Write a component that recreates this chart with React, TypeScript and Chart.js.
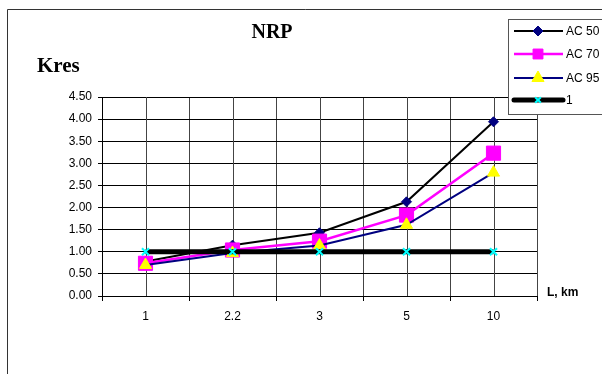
import React, { useEffect, useRef } from 'react';
import { Chart, registerables } from 'chart.js';

Chart.register(...registerables);

const categories = ['1', '2.2', '3', '5', '10'];
const ac50 = [0.78, 1.15, 1.43, 2.13, 3.94];
const ac70 = [0.74, 1.04, 1.24, 1.83, 3.23];
const ac95 = [0.7, 0.97, 1.14, 1.61, 2.79];
const unity = [1, 1, 1, 1, 1];
const seriesNames = ['AC 50', 'AC 70', 'AC 95', '1'];
const titleText = 'NRP';
const yTitle = 'Kres';
const xTitle = 'L, km';
const yMin = 0;
const yMax = 4.5;
const yStep = 0.5;

const SANS = '"Liberation Sans", Arial, sans-serif';
const SERIF = '"Liberation Serif", "Times New Roman", serif';

type Marker = { kind: string; fill: string; stroke: string; r: number; bw: number };

function drawMarker(ctx: CanvasRenderingContext2D, x: number, y: number, m: Marker) {
  ctx.save();
  ctx.fillStyle = m.fill;
  ctx.strokeStyle = m.stroke;
  ctx.lineWidth = m.bw;
  ctx.beginPath();
  if (m.kind === 'rectRot') {
    ctx.moveTo(x - m.r, y);
    ctx.lineTo(x, y - m.r);
    ctx.lineTo(x + m.r, y);
    ctx.lineTo(x, y + m.r);
    ctx.closePath();
    ctx.fill();
    ctx.stroke();
  } else if (m.kind === 'rect') {
    const s = Math.SQRT1_2 * m.r;
    ctx.rect(x - s, y - s, 2 * s, 2 * s);
    ctx.fill();
    ctx.stroke();
  } else if (m.kind === 'triangle') {
    const a = (2 * Math.PI) / 3;
    ctx.moveTo(x, y - m.r);
    ctx.lineTo(x + Math.sin(a) * m.r, y - Math.cos(a) * m.r);
    ctx.lineTo(x + Math.sin(2 * a) * m.r, y - Math.cos(2 * a) * m.r);
    ctx.closePath();
    ctx.fill();
    ctx.stroke();
  } else if (m.kind === 'crossRot') {
    const d = Math.cos(Math.PI / 4) * m.r;
    ctx.moveTo(x - d, y - d);
    ctx.lineTo(x + d, y + d);
    ctx.moveTo(x - d, y + d);
    ctx.lineTo(x + d, y - d);
    ctx.stroke();
  }
  ctx.restore();
}

const legendMarkers: Marker[] = [
  { kind: 'rectRot', fill: '#000080', stroke: '#000080', r: 5, bw: 1 },
  { kind: 'rect', fill: '#ff00ff', stroke: '#ff00ff', r: 7, bw: 1 },
  { kind: 'triangle', fill: '#ffff00', stroke: '#ffff00', r: 7, bw: 1 },
  { kind: 'crossRot', fill: '#00ffff', stroke: '#00ffff', r: 4, bw: 2 },
];

const decorPlugin = {
  id: 'decor',
  beforeDatasetsDraw(chart: any) {
    const { ctx, chartArea } = chart;
    const xs = chart.scales.x;
    ctx.save();
    ctx.strokeStyle = '#444444';
    ctx.lineWidth = 1;
    for (let i = 0; i < categories.length; i++) {
      const px = Math.round(xs.getPixelForValue(i)) + 0.5;
      ctx.beginPath();
      ctx.moveTo(px, chartArea.top);
      ctx.lineTo(px, chartArea.bottom);
      ctx.stroke();
    }
    ctx.restore();
  },
  afterDraw(chart: any) {
    const { ctx } = chart;
    const datasets = chart.data.datasets;
    ctx.save();
    // outer border
    ctx.strokeStyle = '#333333';
    ctx.lineWidth = 1;
    ctx.beginPath();
    ctx.moveTo(7.5, 380);
    ctx.lineTo(7.5, 9.5);
    ctx.lineTo(610, 9.5);
    ctx.stroke();

    // titles
    ctx.fillStyle = '#000';
    ctx.textBaseline = 'alphabetic';
    ctx.font = `bold 20px ${SERIF}`;
    ctx.textAlign = 'center';
    ctx.fillText(titleText, 272, 38);
    ctx.textAlign = 'left';
    ctx.font = `bold 21px ${SERIF}`;
    ctx.fillText(yTitle, 37, 72);
    ctx.font = `bold 12px ${SANS}`;
    ctx.fillText(xTitle, 547, 296);

    // legend
    ctx.fillStyle = '#ffffff';
    ctx.fillRect(508, 19, 100, 95);
    ctx.strokeStyle = '#555555';
    ctx.lineWidth = 1;
    ctx.strokeRect(508.5, 19.5, 100, 95);
    const rowsY = [31, 54, 78, 100];
    for (let i = 0; i < datasets.length; i++) {
      const ds = datasets[i];
      const y = rowsY[i];
      ctx.save();
      ctx.strokeStyle = ds.borderColor;
      ctx.lineWidth = ds.borderWidth;
      ctx.lineCap = ds.borderWidth > 3 ? 'round' : 'butt';
      ctx.beginPath();
      ctx.moveTo(514, y);
      ctx.lineTo(563, y);
      ctx.stroke();
      ctx.restore();
      drawMarker(ctx, 538, y, legendMarkers[i]);
      ctx.fillStyle = '#000';
      ctx.font = `12px ${SANS}`;
      ctx.textAlign = 'left';
      ctx.textBaseline = 'middle';
      ctx.fillText(ds.label, 566, y + 1);
    }
    ctx.restore();
  },
};

export default function App() {
  const canvasRef = useRef<HTMLCanvasElement | null>(null);

  useEffect(() => {
    const canvas = canvasRef.current;
    if (!canvas) return;
    const chart = new Chart(canvas, {
      type: 'line',
      data: {
        labels: categories,
        datasets: [
          {
            label: seriesNames[0],
            data: ac50,
            borderColor: '#000000',
            borderWidth: 2,
            pointStyle: 'rectRot',
            pointRadius: 5,
            pointBackgroundColor: '#000080',
            pointBorderColor: '#000080',
            pointBorderWidth: 1,
            order: 3,
            tension: 0,
          },
          {
            label: seriesNames[1],
            data: ac70,
            borderColor: '#ff00ff',
            borderWidth: 2.5,
            pointStyle: 'rect',
            pointRadius: 10,
            pointBackgroundColor: '#ff00ff',
            pointBorderColor: '#ff00ff',
            pointBorderWidth: 1,
            order: 2,
            tension: 0,
          },
          {
            label: seriesNames[2],
            data: ac95,
            borderColor: '#000080',
            borderWidth: 2,
            pointStyle: 'triangle',
            pointRadius: 7,
            pointBackgroundColor: '#ffff00',
            pointBorderColor: '#ffff00',
            pointBorderWidth: 1,
            order: 1,
            tension: 0,
          },
          {
            label: seriesNames[3],
            data: unity,
            borderColor: '#000000',
            borderWidth: 5,
            pointStyle: 'crossRot',
            pointRadius: 5,
            pointBackgroundColor: '#00ffff',
            pointBorderColor: '#00ffff',
            pointBorderWidth: 2,
            order: 0,
            tension: 0,
          },
        ],
      },
      options: {
        animation: false,
        responsive: false,
        maintainAspectRatio: false,
        layout: { padding: { top: 97, right: 65, left: 0, bottom: 0 } },
        plugins: {
          legend: { display: false },
          title: { display: false },
          tooltip: { enabled: false },
        },
        scales: {
          x: {
            type: 'category',
            offset: true,
            grid: {
              offset: true,
              color: '#444444',
              lineWidth: 1,
              drawTicks: true,
              tickLength: 5,
              tickColor: '#000000',
            },
            border: { display: true, color: '#000000', width: 1 },
            ticks: {
              color: '#000',
              font: { family: SANS, size: 12 },
              padding: 8,
              maxRotation: 0,
            },
            afterFit: (scale: any) => {
              scale.height = 78;
            },
          },
          y: {
            min: yMin,
            max: yMax,
            grid: {
              color: '#000000',
              lineWidth: 1,
              drawTicks: true,
              tickLength: 4,
              tickColor: '#000000',
            },
            border: { display: true, color: '#000000', width: 1 },
            ticks: {
              stepSize: yStep,
              color: '#000',
              font: { family: SANS, size: 12 },
              padding: 6,
              callback: (v: any) => Number(v).toFixed(2),
            },
            afterFit: (scale: any) => {
              scale.width = 102;
            },
          },
        },
      },
      plugins: [decorPlugin],
    });
    return () => chart.destroy();
  }, []);

  return (
    <div style={{ position: 'fixed', left: 0, top: 0, width: 602, height: 374, background: '#fff' }}>
      <canvas ref={canvasRef} width={602} height={374} style={{ display: 'block', width: 602, height: 374 }} />
    </div>
  );
}
